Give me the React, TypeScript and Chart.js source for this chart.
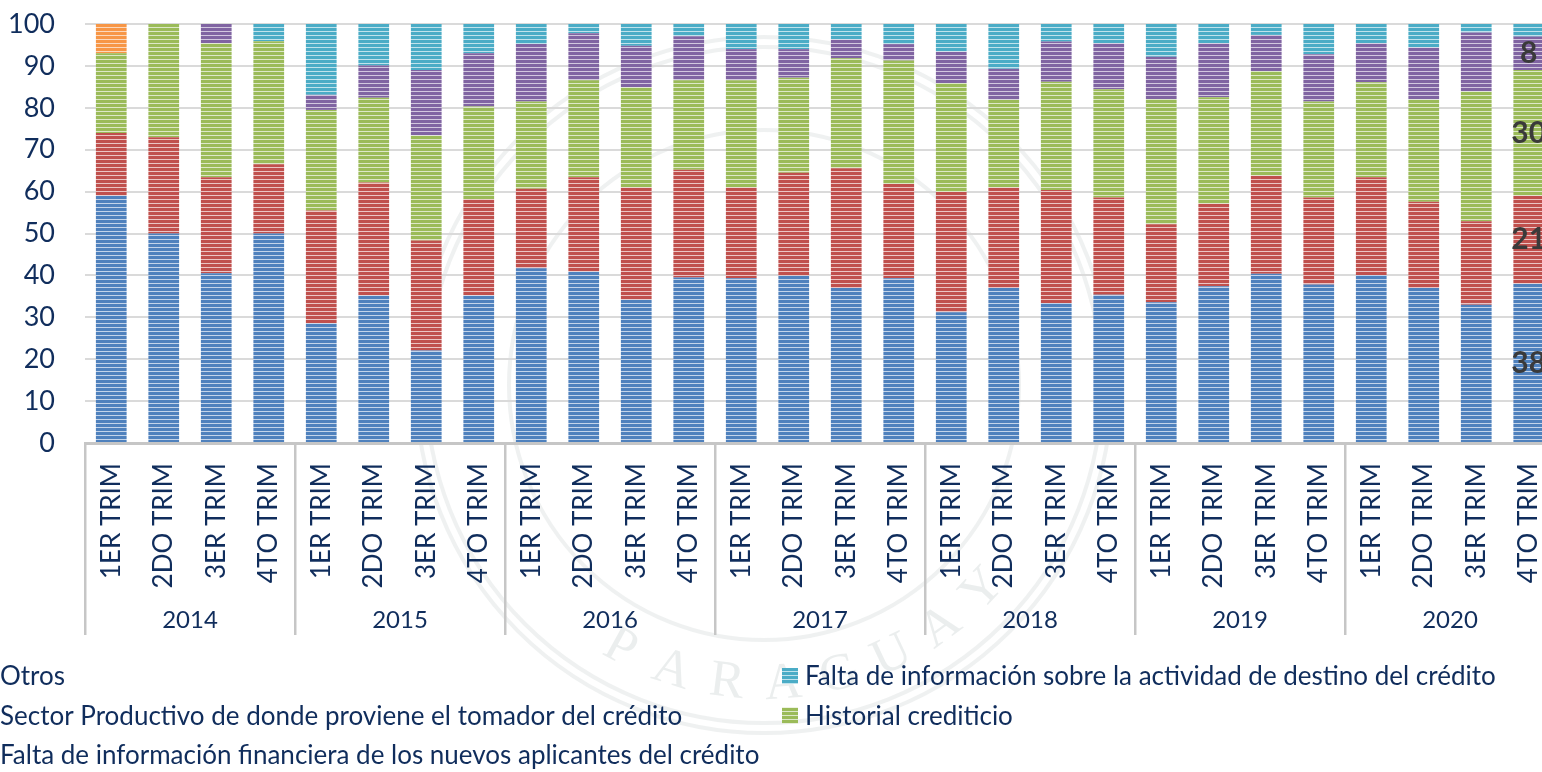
import React, { useEffect, useRef } from 'react';
import { Chart, registerables } from 'chart.js';

Chart.register(...registerables);

// ---------- DATA ----------
const years = ['2014', '2015', '2016', '2017', '2018', '2019', '2020'];
const quarterNames = ['1ER TRIM', '2DO TRIM', '3ER TRIM', '4TO TRIM'];
const categories = years.flatMap(() => quarterNames);

const faltaInfoFinanciera = [59, 50, 40.5, 50, 28.6, 35.2, 22.1, 35.2, 41.7, 40.9, 34.2, 39.5, 39.3, 39.9, 37, 39.3, 31.2, 37, 33.4, 35.4, 33.6, 37.4, 40.4, 37.8, 40.1, 37, 33, 38];
const sectorProductivo = [15, 23, 22.9, 16.5, 26.9, 27, 26.2, 23, 19, 22.5, 26.8, 25.7, 21.7, 24.6, 28.6, 22.5, 28.7, 24, 27, 23.2, 18.6, 19.7, 23.4, 20.8, 23.3, 20.6, 19.9, 21];
const historialCrediticio = [19, 27, 32, 29.4, 24, 20.2, 25.1, 22.1, 20.8, 23.2, 23.9, 21.4, 25.6, 22.7, 26.2, 29.5, 26, 20.9, 25.8, 25.8, 29.9, 25.4, 25, 22.9, 22.7, 24.4, 31, 30];
const serieSinLeyenda = [0, 0, 4.6, 0, 3.6, 7.7, 15.6, 12.7, 13.7, 11.2, 9.9, 10.5, 7.4, 6.8, 4.5, 3.9, 7.5, 7.4, 9.6, 11, 10.1, 12.9, 8.6, 11.3, 9.3, 12.4, 14.1, 8];
const faltaInfoActividad = [0, 0, 0, 4.1, 16.9, 9.9, 11, 7, 4.8, 2.2, 5.2, 2.9, 6, 6, 3.7, 4.8, 6.6, 10.7, 4.2, 4.6, 7.8, 4.6, 2.6, 7.2, 4.6, 5.6, 2, 3];
const otros = [7, 0, 0, 0, 0, 0, 0, 0, 0, 0, 0, 0, 0, 0, 0, 0, 0, 0, 0, 0, 0, 0, 0, 0, 0, 0, 0, 0];

const seriesLabels = [
  'Falta de información financiera de los nuevos aplicantes del crédito',
  'Sector Productivo de donde proviene el tomador del crédito',
  'Historial crediticio',
  'Serie sin leyenda',
  'Falta de información sobre la actividad de destino del crédito',
  'Otros',
];
const seriesColors = ['#4f81bd', '#c0504d', '#9bbb59', '#8064a2', '#4bacc6', '#f79646'];
const seriesTints = ['#c3d4ea', '#ebc4c3', '#dde8c8', '#d2c7df', '#c0e3ec', '#fcd8bc'];

// legend columns (dataset indices); the purple series has no legend entry
const legendColumns = [[5, 1, 0], [4, 2]];
const labeledDatasets = [0, 1, 2, 3];
const labeledIndex = 27;

const NAVY = '#102d5c';
const FONT = 'Lato';
const SHIFT = 30; // canvas is shifted left (image is cropped)

function stripes(color: string, tint: string): CanvasPattern | string {
  const c = document.createElement('canvas');
  c.width = 4;
  c.height = 4;
  const g = c.getContext('2d');
  if (!g) return color;
  g.fillStyle = color;
  g.fillRect(0, 0, 4, 4);
  g.fillStyle = tint;
  g.fillRect(0, 3, 4, 1);
  return g.createPattern(c, 'repeat') || color;
}

const valueLabelPlugin = {
  id: 'valueLabels',
  afterDatasetsDraw(chart: any) {
    const ctx = chart.ctx;
    ctx.save();
    ctx.font = `bold 30px ${FONT}`;
    ctx.fillStyle = '#3a3a3a';
    ctx.textAlign = 'center';
    ctx.textBaseline = 'middle';
    labeledDatasets.forEach((di) => {
      const meta = chart.getDatasetMeta(di);
      const el = meta.data[labeledIndex];
      if (!el) return;
      const p = el.getCenterPoint();
      ctx.fillText(String(chart.data.datasets[di].data[labeledIndex]), p.x, p.y);
    });
    ctx.restore();
  },
};

const legendPlugin = {
  id: 'columnLegend',
  afterDraw(chart: any) {
    const ctx = chart.ctx;
    const colX = [SHIFT - 23, SHIFT + 782];
    const baselines = [685, 724.5, 764];
    ctx.save();
    ctx.font = `26px ${FONT}`;
    ctx.textAlign = 'left';
    ctx.textBaseline = 'alphabetic';
    legendColumns.forEach((col, ci) => {
      col.forEach((di, ri) => {
        const ds = chart.data.datasets[di];
        const x = colX[ci];
        const b = baselines[ri];
        ctx.fillStyle = ds.backgroundColor;
        ctx.fillRect(x, b - 17, 16, 16);
        ctx.fillStyle = NAVY;
        ctx.fillText(ds.label, x + 23, b);
      });
    });
    ctx.restore();
  },
};

const watermarkPlugin = {
  id: 'watermark',
  beforeDraw(chart: any) {
    const ctx = chart.ctx;
    const cx = SHIFT + 764;
    const cy = 385;
    ctx.save();
    ctx.strokeStyle = 'rgba(190,198,198,0.25)';
    ctx.lineWidth = 4;
    [348, 338, 255].forEach((r) => {
      ctx.beginPath();
      ctx.arc(cx, cy, r, 0, Math.PI * 2);
      ctx.stroke();
    });
    ctx.fillStyle = 'rgba(190,198,198,0.3)';
    ctx.font = `52px "Liberation Serif"`;
    ctx.textAlign = 'center';
    ctx.textBaseline = 'middle';
    const text = 'PARAGUAY';
    const r = 300;
    const startDeg = 118.7;
    const stepDeg = 10.8;
    for (let i = 0; i < text.length; i++) {
      const a = ((startDeg - i * stepDeg) * Math.PI) / 180;
      ctx.save();
      ctx.translate(cx + r * Math.cos(a), cy + r * Math.sin(a));
      ctx.rotate(a - Math.PI / 2);
      ctx.fillText(text[i], 0, 0);
      ctx.restore();
    }
    ctx.restore();
  },
};

export default function App() {
  const canvasRef = useRef<HTMLCanvasElement | null>(null);

  useEffect(() => {
    const canvas = canvasRef.current;
    if (!canvas) return;
    const seriesData = [faltaInfoFinanciera, sectorProductivo, historialCrediticio, serieSinLeyenda, faltaInfoActividad, otros];
    const chart = new Chart(canvas, {
      type: 'bar',
      data: {
        labels: categories,
        datasets: seriesData.map((d, i) => ({
          label: seriesLabels[i],
          data: d,
          backgroundColor: stripes(seriesColors[i], seriesTints[i]) as any,
          borderWidth: 0,
          categoryPercentage: 1,
          barPercentage: 0.585,
        })),
      },
      options: {
        responsive: false,
        animation: false,
        events: [],
        layout: { padding: { left: 0, right: 20, top: 24, bottom: 117 } },
        plugins: {
          legend: { display: false },
          tooltip: { enabled: false },
          title: { display: false },
        },
        scales: {
          x: {
            stacked: true,
            weight: 0,
            grid: {
              display: true,
              drawOnChartArea: false,
              drawTicks: true,
              offset: true,
              tickLength: 192,
              lineWidth: 2.5,
              color: (c: any) => (c.index % 4 === 0 ? '#c6c6c6' : 'rgba(0,0,0,0)'),
            },
            border: { display: true, color: '#c6c6c6', width: 3 },
            ticks: {
              autoSkip: false,
              minRotation: 90,
              maxRotation: 90,
              padding: -172,
              color: NAVY,
              font: { family: FONT, size: 26 },
            },
            afterFit: (s: any) => {
              s.height = 160;
            },
          },
          x2: {
            type: 'category',
            position: 'bottom',
            labels: years,
            offset: true,
            weight: 1,
            grid: { display: false, drawTicks: false },
            border: { display: false },
            ticks: {
              autoSkip: false,
              maxRotation: 0,
              padding: 3,
              color: NAVY,
              font: { family: FONT, size: 24 },
            },
            afterFit: (s: any) => {
              s.height = 52;
            },
          },
          y: {
            stacked: true,
            min: 0,
            max: 100,
            ticks: {
              stepSize: 10,
              padding: 30,
              color: NAVY,
              font: { family: FONT, size: 27 },
            },
            grid: { color: '#dadada', lineWidth: 2, drawTicks: false },
            border: { display: false },
            afterFit: (s: any) => {
              s.width = 115;
              s.paddingTop = 0;
              s.paddingBottom = 0;
            },
          },
        },
      } as any,
      plugins: [watermarkPlugin, valueLabelPlugin, legendPlugin],
    });
    return () => chart.destroy();
  }, []);

  return (
    <div
      style={{
        position: 'fixed',
        left: 0,
        top: 0,
        width: 1542,
        height: 772,
        overflow: 'hidden',
        background: '#ffffff',
      }}
    >
      <canvas
        ref={canvasRef}
        width={1605}
        height={772}
        style={{ position: 'absolute', left: -SHIFT, top: 0, width: 1605, height: 772 }}
      />
    </div>
  );
}
